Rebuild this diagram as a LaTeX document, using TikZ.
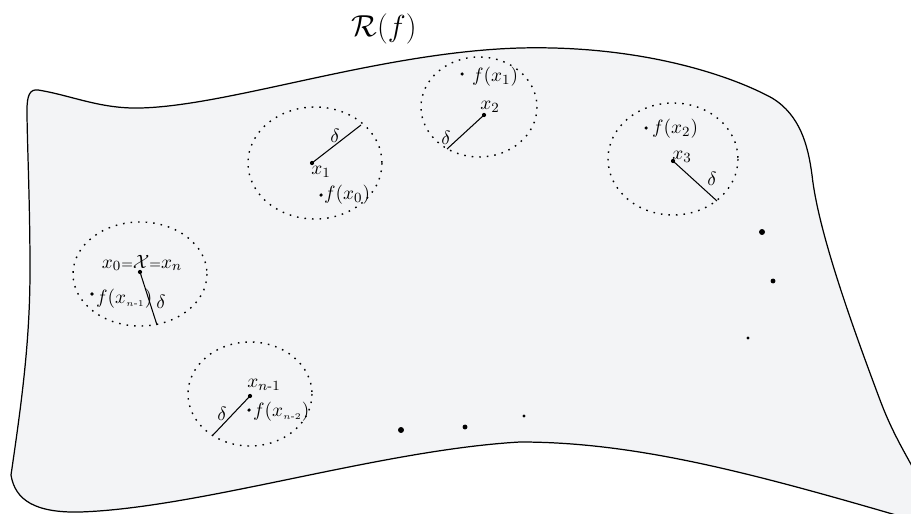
\documentclass[tikz,border=0pt]{standalone}
\usepackage{amssymb}
\usepackage{amsmath}
\usepackage{xcolor}
\usepackage{tikz}
\usetikzlibrary{positioning}
\definecolor{sheet}{RGB}{243,244,246}

\begin{document}
\begin{tikzpicture}[x=0.02cm, y=-0.02cm,
    ball/.style = {draw, dash pattern=on 0.9pt off 3.4pt, line width=0.8pt},
    pt/.style = {circle, fill, inner sep=0pt, minimum size=2.4pt},
    fpt/.style = {circle, fill, inner sep=0pt, minimum size=2pt},
    lab/.style = {inner sep=0.5pt, font=\fontsize{11}{13}\selectfont}]
    \clip (0,0) rectangle (911,513);
    
    % the region R(f)
    \draw [line width=0.7pt, fill=sheet] (27,110) .. controls (27,95) and (30,89) .. (38,90) .. controls (70,95) and (100,109) .. (140,108) .. controls (230,106) and (380,52) .. (520,48) .. controls (640,45) and (730,75) .. (772,98) .. controls (800,115) and (808,145) .. (812,175) .. controls (818,230) and (850,320) .. (880,400) .. controls (895,440) and (910,460) .. (930,500) -- (940,530) -- (930,525) .. controls (760,475) and (640,442) .. (520,442) .. controls (380,450) and (200,508) .. (80,512) .. controls (35,513) and (15,500) .. (11,475) .. controls (22,400) and (30,340) .. (30,270) .. controls (30,200) and (27,140) .. (27,110) -- cycle;
    \node [font=\fontsize{18}{22}\selectfont] (R) at (384,29) {$\mathcal{R}(f)$};
    
    % balls of radius delta
    \draw [ball] (140,274) ellipse [x radius=67, y radius=52];
    \draw [ball] (315,163) ellipse [x radius=67, y radius=56];
    \draw [ball] (479,107) ellipse [x radius=58, y radius=50];
    \draw [ball] (673,159) ellipse [x radius=65, y radius=56];
    \draw [ball] (250,394) ellipse [x radius=62, y radius=52];
    
    % centres and radii
    \coordinate (x0) at (140,272); \coordinate (d0) at (157,325);
    \coordinate (x1) at (312,163); \coordinate (d1) at (361,125);
    \coordinate (x2) at (484,115); \coordinate (d2) at (447,149);
    \coordinate (x3) at (673,161); \coordinate (d3) at (717,201);
    \coordinate (xn1) at (250,396); \coordinate (dn1) at (213,435);
    \foreach \c/\d in {x0/d0, x1/d1, x2/d2, x3/d3, xn1/dn1} {
        \draw [line width=0.6pt] (\c) -- (\d);
        \node [pt] at (\c) {};
    }
    
    % labels
    \node [lab, anchor=base] (lx0) at (142,268) {$x_0{\scriptstyle=}\mathcal{X}{\scriptstyle=}x_n$};
    \node [lab] (dl0) at (161,302) {$\delta$};
    \node [fpt] (fn1) at (92,294) {};
    \node [lab, anchor=west] (lfn1) at (95,299) {$f(x_{\scriptscriptstyle n\text{-}1})$};
    
    \node [lab] (lx1) at (321,172) {$x_1$};
    \node [lab] (dl1) at (335,136) {$\delta$};
    \node [fpt] (f0) at (321,195) {};
    \node [lab, anchor=west] (lf0) at (323,195) {$f(x_0)$};
    
    \node [lab] (lx2) at (490,107) {$x_2$};
    \node [lab] (dl2) at (446,138) {$\delta$};
    \node [fpt] (f1) at (462,74) {};
    \node [lab, anchor=west] (lf1) at (471,77) {$f(x_1)$};
    
    \node [lab] (lx3) at (682,157) {$x_3$};
    \node [lab] (dl3) at (712,179) {$\delta$};
    \node [fpt] (f2) at (646,128) {};
    \node [lab, anchor=west] (lf2) at (651,129) {$f(x_2)$};
    
    \node [lab] (lxn1) at (264,385) {$x_{n\text{-}1}$};
    \node [lab] (dln1) at (222,414) {$\delta$};
    \node [fpt] (fn2) at (249,410) {};
    \node [lab, anchor=west] (lfn2) at (252,412) {$f(x_{\scriptscriptstyle n\text{-}2})$};
    
    % dots in between
    \node [pt, minimum size=3.4pt] (a1) at (401,430) {};
    \node [pt, minimum size=2.8pt] (a2) at (465,427) {};
    \node [pt, minimum size=1.9pt] (a3) at (524,416) {};
    \node [pt, minimum size=3.4pt] (b1) at (762,232) {};
    \node [pt, minimum size=2.8pt] (b2) at (773,281) {};
    \node [pt, minimum size=1.9pt] (b3) at (748,338) {};
\end{tikzpicture}
\end{document}
